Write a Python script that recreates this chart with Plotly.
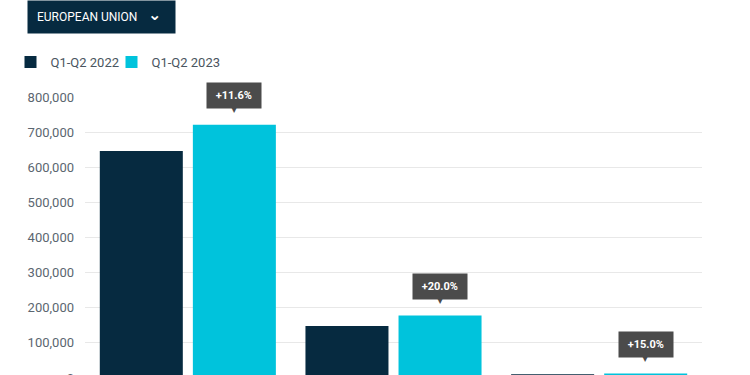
import plotly.graph_objects as go

categories = ["Vans", "Trucks", "Buses"]
values_2022 = [646000, 148000, 11000]
values_2023 = [721000, 177600, 12650]
change_labels = ["+11.6%", "+20.0%", "+15.0%"]
series_names = ["Q1-Q2 2022", "Q1-Q2 2023"]
y_ticks = [0, 100000, 200000, 300000, 400000, 500000, 600000, 700000, 800000]

DARK = "#062a40"
CYAN = "#00c3dc"
TIP = "#4b4b4b"
FONT = "Roboto"

fig = go.Figure()
fig.add_trace(go.Bar(x=categories, y=values_2022, name=series_names[0], marker_color=DARK,
                     marker_line_width=0, legend="legend"))
fig.add_trace(go.Bar(x=categories, y=values_2023, name=series_names[1], marker_color=CYAN,
                     marker_line_width=0, legend="legend2"))

W, H = 750, 448
ml, mr, mt, mb = 85, 48, 97, 70
plot_w = W - ml - mr
plot_h = H - mt - mb
bargap = 0.095
bargroupgap = 0.108
slot = (1 - bargap) / 2
cyan_offset = slot / 2  # in category units

for i, (v, lab) in enumerate(zip(values_2023, change_labels)):
    fig.add_annotation(x=i + cyan_offset, y=v, xref="x", yref="y",
                       text="&nbsp;<b>" + lab + "</b>&nbsp;",
                       showarrow=False, bgcolor=TIP, font=dict(color="white", size=11, family=FONT),
                       borderpad=6, yanchor="bottom", yshift=16)
    fig.add_annotation(x=i + cyan_offset, y=v, xref="x", yref="y", text="▼",
                       showarrow=False, font=dict(color=TIP, size=8, family="DejaVu Sans"),
                       yanchor="bottom", yshift=9)

# region selector button
fig.add_annotation(xref="paper", yref="paper", x=-58 / plot_w, y=1 + 80 / plot_h,
                   xanchor="left", yanchor="middle",
                   text="EUROPEAN UNION", align="left", valign="middle",
                   width=129, height=14,
                   showarrow=False,
                   bgcolor=DARK, font=dict(color="white", size=12, family=FONT),
                   borderpad=9)
fig.add_annotation(xref="paper", yref="paper", x=69 / plot_w, y=1 + 80 / plot_h,
                   xanchor="center", yanchor="middle", yshift=3,
                   text="<b>⌄</b>", showarrow=False,
                   font=dict(color="white", size=16, family="DejaVu Sans"))

legend_common = dict(orientation="h", xanchor="left", y=1 + 35 / plot_h, yanchor="middle",
                     font=dict(size=13, color="#4a5560"), bgcolor="rgba(0,0,0,0)")

fig.update_layout(
    width=W, height=H,
    margin=dict(l=ml, r=mr, t=mt, b=mb, autoexpand=False),
    barmode="group", bargap=bargap, bargroupgap=bargroupgap,
    plot_bgcolor="white", paper_bgcolor="white",
    font=dict(family=FONT, size=13, color="#5b6670"),
    showlegend=True,
    legend=dict(x=-74.5 / plot_w, **legend_common),
    legend2=dict(x=26.5 / plot_w, **legend_common),
    xaxis=dict(showgrid=False, tickfont=dict(size=13)),
    yaxis=dict(range=[0, 800000], tickvals=y_ticks, tickformat=",", gridcolor="#e8e8e8",
               zeroline=False, ticks="", ticklabelstandoff=10),
)

fig.write_html("out.html", config={"displayModeBar": False},
               post_script="document.body.style.margin='0px';")
